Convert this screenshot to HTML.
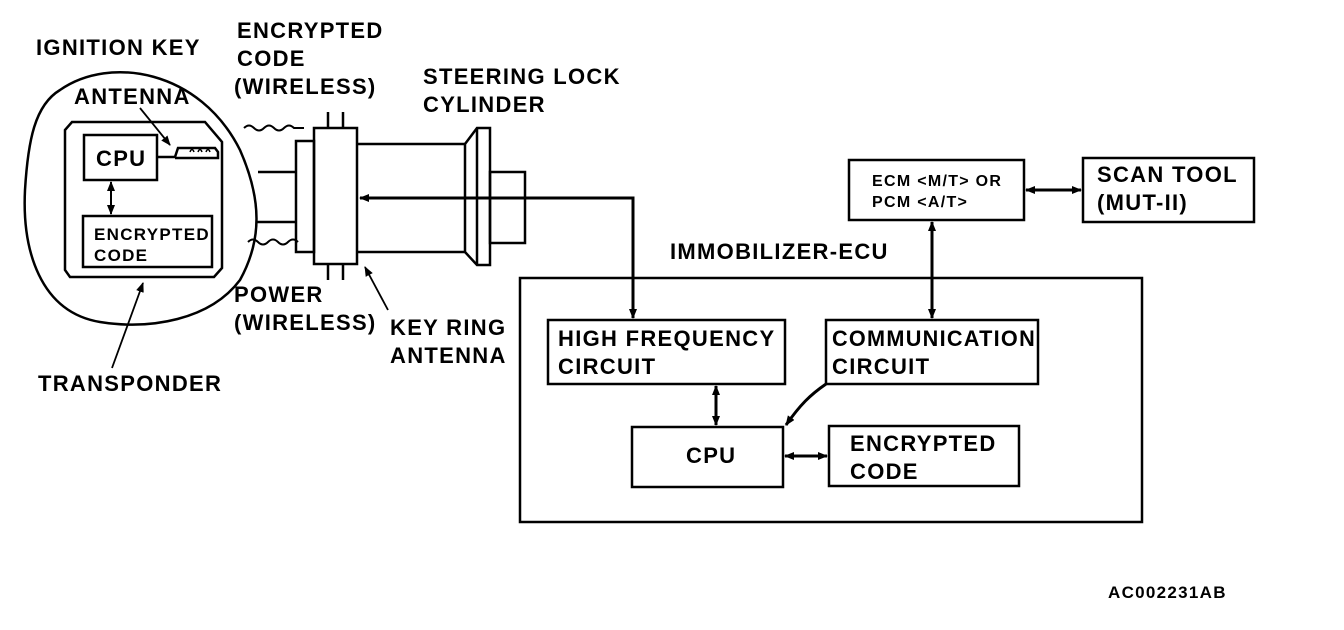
<!DOCTYPE html>
<html><head><meta charset="utf-8"><style>
html,body{margin:0;padding:0;background:#fff;}
svg{display:block;}
text{font-family:"Liberation Sans",sans-serif;fill:#000;font-weight:bold;letter-spacing:1.3px;}
</style></head><body>
<svg width="1344" height="630" viewBox="0 0 1344 630" xmlns="http://www.w3.org/2000/svg">
<defs>
<marker id="ah" markerWidth="10" markerHeight="8" refX="9" refY="4" orient="auto-start-reverse" markerUnits="userSpaceOnUse">
<path d="M0,0 L10,4 L0,8 Z" fill="#000"/></marker>
</defs>
<g fill="none" stroke="#000" stroke-width="2.5">
<path d="M60,90 C110,55 200,70 240,150 C262,200 262,240 240,280 C210,320 150,330 100,322 C40,312 22,250 25,190 C28,140 35,105 60,90 Z"/>
<path d="M72,122 L205,122 L222,142 L222,268 L214,277 L70,277 L65,270 L65,130 Z"/>
<rect x="84" y="135" width="73" height="45"/>
<rect x="83" y="216" width="129" height="51"/>
<path d="M157,157 L175,157 L178,148 L215,148 L218,152 L218,158 L175,158"/>
<path d="M190,152 q2,-5 4,0 M198,152 q2,-5 4,0 M206,152 q2,-5 4,0" stroke-width="1.5"/>
<line x1="258" y1="172" x2="296" y2="172"/>
<line x1="257" y1="222" x2="296" y2="222"/>
<rect x="296" y="141" width="18" height="111"/>
<rect x="314" y="128" width="43" height="136"/>
<line x1="328" y1="128" x2="328" y2="112"/><line x1="343" y1="128" x2="343" y2="112"/>
<line x1="328" y1="264" x2="328" y2="280"/><line x1="343" y1="264" x2="343" y2="280"/>
<line x1="357" y1="144" x2="465" y2="144"/>
<line x1="357" y1="252" x2="465" y2="252"/>
<path d="M465,144 L477,128 L490,128 L490,265 L477,265 L465,252 Z"/>
<line x1="477" y1="128" x2="477" y2="265"/>
<rect x="490" y="172" width="35" height="71"/>
<path d="M244,128 q5,-5 10,0 q5,5 10,0 q5,-5 10,0 q5,5 10,0 q5,-5 10,0 l10,0" stroke-width="2"/>
<path d="M248,242 q5,-5 10,0 q5,5 10,0 q5,-5 10,0 q5,5 10,0 q5,-5 10,0" stroke-width="2"/>
<line x1="140" y1="108" x2="170" y2="145" stroke-width="1.8" marker-end="url(#ah)"/>
<line x1="111" y1="182" x2="111" y2="214" stroke-width="2" marker-end="url(#ah)" marker-start="url(#ah)"/>
<line x1="112" y1="368" x2="143" y2="283" stroke-width="1.8" marker-end="url(#ah)"/>
<line x1="388" y1="310" x2="365" y2="267" stroke-width="1.8" marker-end="url(#ah)"/>
<polyline points="633,318 633,198 360,198" stroke-width="3" marker-end="url(#ah)"/>
<line x1="633" y1="300" x2="633" y2="318" stroke-width="3" marker-end="url(#ah)"/>
<rect x="520" y="278" width="622" height="244"/>
<rect x="548" y="320" width="237" height="64"/>
<rect x="826" y="320" width="212" height="64"/>
<rect x="632" y="427" width="151" height="60"/>
<rect x="829" y="426" width="190" height="60"/>
<rect x="849" y="160" width="175" height="60"/>
<rect x="1083" y="158" width="171" height="64"/>
<line x1="932" y1="222" x2="932" y2="318" stroke-width="3" marker-end="url(#ah)" marker-start="url(#ah)"/>
<line x1="1026" y1="190" x2="1081" y2="190" stroke-width="3" marker-end="url(#ah)" marker-start="url(#ah)"/>
<line x1="716" y1="386" x2="716" y2="425" stroke-width="3" marker-end="url(#ah)" marker-start="url(#ah)"/>
<line x1="785" y1="456" x2="827" y2="456" stroke-width="3" marker-end="url(#ah)" marker-start="url(#ah)"/>
<path d="M826,384 C810,395 800,405 786,425" stroke-width="3" marker-end="url(#ah)"/>
</g>
<g font-size="22">
<text x="36" y="55">IGNITION KEY</text>
<text x="74" y="104">ANTENNA</text>
<text x="96" y="166">CPU</text>
<text x="94" y="240" font-size="17" letter-spacing="0.5">ENCRYPTED</text>
<text x="94" y="261" font-size="17" letter-spacing="0.5">CODE</text>
<text x="38" y="391">TRANSPONDER</text>
<text x="237" y="38">ENCRYPTED</text>
<text x="237" y="66">CODE</text>
<text x="234" y="94">(WIRELESS)</text>
<text x="423" y="84">STEERING LOCK</text>
<text x="423" y="112">CYLINDER</text>
<text x="234" y="302">POWER</text>
<text x="234" y="330">(WIRELESS)</text>
<text x="390" y="335">KEY RING</text>
<text x="390" y="363">ANTENNA</text>
<text x="670" y="259">IMMOBILIZER-ECU</text>
<text x="558" y="346">HIGH FREQUENCY</text>
<text x="558" y="374">CIRCUIT</text>
<text x="832" y="346" textLength="204" lengthAdjust="spacingAndGlyphs">COMMUNICATION</text>
<text x="832" y="374">CIRCUIT</text>
<text x="686" y="463">CPU</text>
<text x="850" y="451">ENCRYPTED</text>
<text x="850" y="479">CODE</text>
<text x="872" y="186" font-size="16" letter-spacing="0.3">ECM &lt;M/T&gt; OR</text>
<text x="872" y="207" font-size="16" letter-spacing="0.3">PCM &lt;A/T&gt;</text>
<text x="1097" y="182">SCAN TOOL</text>
<text x="1097" y="210">(MUT-II)</text>
<text x="1108" y="598" font-size="17" letter-spacing="0.8">AC002231AB</text>
</g>
</svg>
</body></html>
